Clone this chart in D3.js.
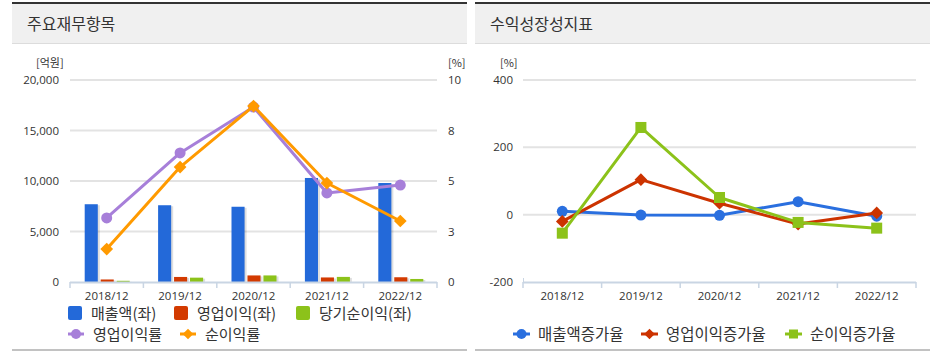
<!DOCTYPE html>
<html>
<head>
<meta charset="utf-8">
<script src="https://cdn.jsdelivr.net/npm/d3@7/dist/d3.min.js"></script>
<style>
  body { margin: 0; background: #fff; }
  text { font-family: "Noto Sans CJK KR", "Noto Sans", sans-serif; fill: #333; }
  .num { font-family: "Open Sans", "Noto Sans", sans-serif; }
</style>
</head>
<body>
<div id="container"></div>
<script>
/* DATA */
const years = ["2018/12", "2019/12", "2020/12", "2021/12", "2022/12"];

// left chart (억원, %)
const sales = [7700, 7600, 7450, 10300, 9800];
const opIncome = [250, 500, 650, 450, 470];
const netIncome = [120, 430, 650, 505, 300];
const opMargin = [3.17, 6.39, 8.66, 4.41, 4.8];
const netMargin = [1.63, 5.69, 8.71, 4.9, 3.02];
const leftTicks = [0, 5000, 10000, 15000, 20000];
const rightTicks = [0, 2.5, 5, 7.5, 10];
const rightTickLabels = ["0", "3", "5", "8", "10"];

// right chart (%)
const salesGrowth = [10, -1.3, -2, 38.6, -4.5];
const opGrowth = [-20, 104, 34, -28, 5];
const netGrowth = [-55, 259, 51, -23, -40];
const growthTicks = [-200, 0, 200, 400];

/* CONSTANTS AND GLOBALS */
const width = 939, height = 354;
const C = {
  blue: "#2369d9", red: "#d33a00", green: "#8cc21a",
  purple: "#a77fd9", orange: "#ff9a00",
  grid: "#e3e3e3", axis: "#c9d5e3"
};

const svg = d3.select("#container").append("svg")
  .attr("width", width).attr("height", height);

// panels
function panel(x0, x1, title) {
  svg.append("rect").attr("x", x0).attr("y", 2).attr("width", x1 - x0).attr("height", 2).attr("fill", "#333");
  svg.append("rect").attr("x", x0).attr("y", 4).attr("width", x1 - x0).attr("height", 39).attr("fill", "#f0f0f0");
  svg.append("rect").attr("x", x0).attr("y", 43).attr("width", x1 - x0).attr("height", 1).attr("fill", "#dcdcdc");
  svg.append("rect").attr("x", x0).attr("y", 349).attr("width", x1 - x0).attr("height", 2).attr("fill", "#c2c2c2");
  svg.append("text").attr("x", x0 + 15).attr("y", 30).attr("font-size", 16).text(title);
}
panel(12, 467, "주요재무항목");
panel(475, 930, "수익성장성지표");

function xAxis(g, x, y0) {
  g.append("line").attr("x1", x.range()[0]).attr("x2", x.range()[1])
    .attr("y1", y0 + 0.5).attr("y2", y0 + 0.5).attr("stroke", C.axis).attr("stroke-width", 2);
  const edges = x.domain().map(d => x(d)).concat([x.range()[1]]);
  g.selectAll("line.tk").data(edges).join("line").attr("class", "tk")
    .attr("x1", d => d).attr("x2", d => d).attr("y1", y0).attr("y2", y0 + 6)
    .attr("stroke", C.axis).attr("stroke-width", 1.5);
  g.selectAll("text.xl").data(x.domain()).join("text").attr("class", "xl num")
    .attr("x", d => x(d) + x.bandwidth() / 2).attr("y", y0 + 18)
    .attr("text-anchor", "middle").attr("font-size", 11.5).text(d => d);
}

function markerShape(g, type, cx, cy, color, s) {
  if (type === "circle") {
    g.append("circle").attr("cx", cx).attr("cy", cy).attr("r", s).attr("fill", color);
  } else if (type === "diamond") {
    const h = s * 0.75;
    g.append("rect").attr("x", -h).attr("y", -h).attr("width", 2 * h).attr("height", 2 * h)
      .attr("transform", `translate(${cx},${cy}) rotate(45)`).attr("fill", color);
  } else {
    g.append("rect").attr("x", cx - s).attr("y", cy - s).attr("width", 2 * s).attr("height", 2 * s).attr("fill", color);
  }
}

function lineSeries(g, x, y, values, color, type, s) {
  const pts = values.map((v, i) => [x(years[i]) + x.bandwidth() / 2, y(v)]);
  g.append("path").attr("d", d3.line()(pts)).attr("fill", "none")
    .attr("stroke", color).attr("stroke-width", 3).attr("stroke-linejoin", "round");
  pts.forEach(p => markerShape(g, type, p[0], p[1], color, s));
}

/* LEFT CHART */
const gl = svg.append("g");
const xL = d3.scaleBand().domain(years).range([70, 437]);
const yL = d3.scaleLinear().domain([0, 20000]).range([282, 80]);
const yR = d3.scaleLinear().domain([0, 10]).range([282, 80]);

gl.selectAll("line.grid").data(leftTicks.slice(1)).join("line").attr("class", "grid")
  .attr("x1", 70).attr("x2", 437).attr("y1", d => yL(d)).attr("y2", d => yL(d))
  .attr("stroke", C.grid).attr("stroke-width", 2);
gl.selectAll("text.yl").data(leftTicks).join("text").attr("class", "yl num")
  .attr("x", 59).attr("y", d => yL(d) + 4).attr("text-anchor", "end").attr("font-size", 11.5)
  .text(d => d3.format(",")(d));
gl.selectAll("text.yr").data(rightTicks).join("text").attr("class", "yr num")
  .attr("x", 448).attr("y", d => yR(d) + 4).attr("font-size", 11.5)
  .text((d, i) => rightTickLabels[i]);
gl.append("text").attr("x", 36).attr("y", 67).attr("font-size", 11).text("[억원]");
gl.append("text").attr("x", 448).attr("y", 67).attr("font-size", 11).text("[%]");

const barSeries = [
  { values: sales, color: C.blue },
  { values: opIncome, color: C.red },
  { values: netIncome, color: C.green }
];
const sub = d3.scaleBand().domain([0, 1, 2]).range([0, 45]).paddingInner(0.18);
barSeries.forEach((s, k) => {
  const bx = (d, i) => xL(years[i]) + xL.bandwidth() / 2 - 22 + sub(k);
  gl.selectAll(null).data(s.values).join("rect")
    .attr("x", (d, i) => bx(d, i) + 2).attr("y", d => yL(d) + 1)
    .attr("width", sub.bandwidth()).attr("height", d => 282 - yL(d) - 1)
    .attr("fill", "rgba(0,0,0,0.13)");
  gl.selectAll(null).data(s.values).join("rect")
    .attr("x", bx).attr("y", d => yL(d))
    .attr("width", sub.bandwidth()).attr("height", d => 282 - yL(d))
    .attr("fill", s.color);
});
xAxis(gl, xL, 282);
lineSeries(gl, xL, yR, opMargin, C.purple, "circle", 5.5);
lineSeries(gl, xL, yR, netMargin, C.orange, "diamond", 6);

// legend left
const lg = svg.append("g");
[["매출액(좌)", C.blue, 68], ["영업이익(좌)", C.red, 174], ["당기순이익(좌)", C.green, 296]].forEach(d => {
  lg.append("rect").attr("x", d[2]).attr("y", 306).attr("width", 14).attr("height", 14).attr("rx", 2).attr("fill", d[1]);
  lg.append("text").attr("x", d[2] + 23).attr("y", 319).attr("font-size", 15).text(d[0]);
});
[["영업이익률", C.purple, 68, "circle"], ["순이익률", C.orange, 180, "diamond"]].forEach(d => {
  lg.append("line").attr("x1", d[2]).attr("x2", d[2] + 16).attr("y1", 334).attr("y2", 334).attr("stroke", d[1]).attr("stroke-width", 3);
  markerShape(lg, d[3], d[2] + 8, 334, d[1], 5);
  lg.append("text").attr("x", d[2] + 25).attr("y", 340).attr("font-size", 15).text(d[0]);
});

/* RIGHT CHART */
const gr = svg.append("g");
const xG = d3.scaleBand().domain(years).range([523, 916]);
const yG = d3.scaleLinear().domain([-200, 400]).range([282, 80]);
gr.selectAll("line.grid").data(growthTicks.slice(1)).join("line").attr("class", "grid")
  .attr("x1", 523).attr("x2", 916).attr("y1", d => yG(d)).attr("y2", d => yG(d))
  .attr("stroke", C.grid).attr("stroke-width", 2);
gr.selectAll("text.yl").data(growthTicks).join("text").attr("class", "yl num")
  .attr("x", 513).attr("y", d => yG(d) + 4).attr("text-anchor", "end").attr("font-size", 11.5)
  .text(d => d);
gr.append("text").attr("x", 500).attr("y", 67).attr("font-size", 11).text("[%]");
gr.append("line").attr("x1", 523.5).attr("x2", 523.5).attr("y1", 278).attr("y2", 282).attr("stroke", C.axis);
xAxis(gr, xG, 282);
lineSeries(gr, xG, yG, salesGrowth, "#2a6fdf", "circle", 5.5);
lineSeries(gr, xG, yG, opGrowth, "#cc3300", "diamond", 6);
lineSeries(gr, xG, yG, netGrowth, C.green, "square", 5.5);

const rg = svg.append("g");
[["매출액증가율", "#2a6fdf", 513, "circle"], ["영업이익증가율", "#cc3300", 641, "diamond"], ["순이익증가율", C.green, 785, "square"]].forEach(d => {
  rg.append("line").attr("x1", d[2]).attr("x2", d[2] + 17).attr("y1", 334).attr("y2", 334).attr("stroke", d[1]).attr("stroke-width", 3);
  markerShape(rg, d[3], d[2] + 8.5, 334, d[1], d[3] === "square" ? 4.5 : 5);
  rg.append("text").attr("x", d[2] + 25).attr("y", 340).attr("font-size", 15.5).text(d[0]);
});
</script>
</body>
</html>
